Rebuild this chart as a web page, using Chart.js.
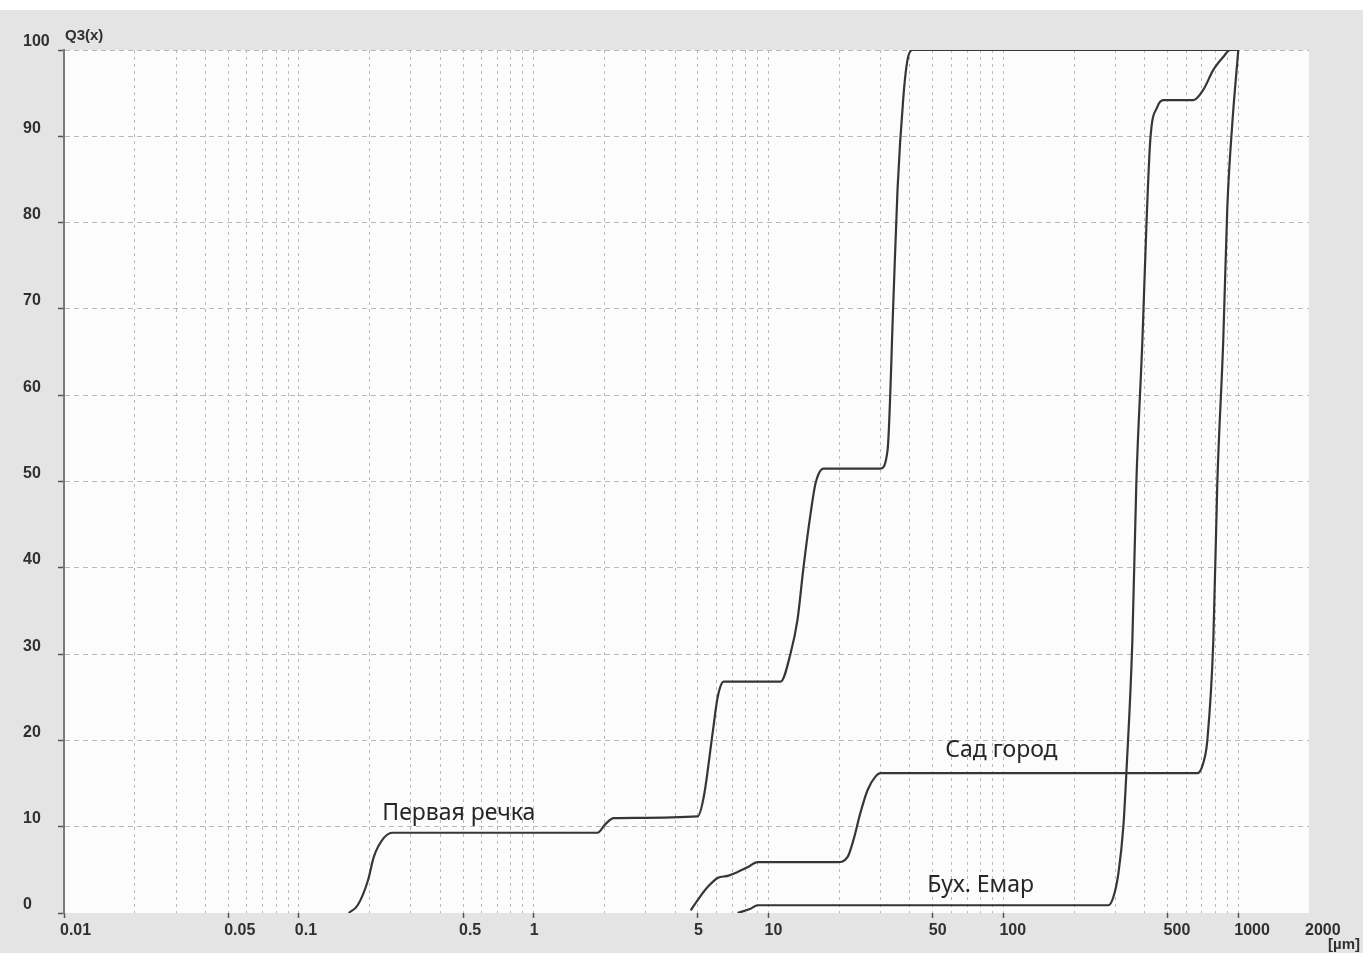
<!DOCTYPE html>
<html><head><meta charset="utf-8">
<script src="https://cdn.jsdelivr.net/npm/chart.js@4.4.1/dist/chart.umd.min.js"></script>
<style>html,body{margin:0;padding:0;background:#fff;overflow:hidden}</style>
</head><body>
<canvas id="c" width="1363" height="953" style="display:block;width:1363px;height:953px"></canvas>
<script>
// Tick labels
const xTickLabels = [0.01, 0.05, 0.1, 0.5, 1, 5, 10, 50, 100, 500, 1000, 2000];
const yTickLabels = [0, 10, 20, 30, 40, 50, 60, 70, 80, 90, 100];
const xMin = 0.01, xMax = 2000;

// Series: "Первая речка"
const s1Name = 'Первая речка';
const s1x = [0.163, 0.178, 0.197, 0.2085, 0.230, 0.251, 1.87, 2.02, 2.19, 4.99, 5.30, 5.78, 6.07, 6.44, 11.25, 12.41, 13.28, 14.09, 15.10, 15.85, 17.14, 29.97, 32.1, 34.0, 35.4, 37.5, 39.0, 41.0, 1000];
const s1y = [0.0, 0.9, 3.8, 6.5, 8.7, 9.3, 9.3, 10.3, 11.0, 11.2, 13.5, 20.9, 25.0, 26.8, 26.8, 30.1, 34.0, 40.1, 46.3, 49.8, 51.5, 51.5, 53.6, 71.0, 83.8, 94.6, 98.8, 100, 100];

// Series: "Сад город"
const s2Name = 'Сад город';
const s2x = [4.66, 4.99, 5.50, 6.07, 6.69, 7.38, 8.14, 8.98, 19.66, 21.7, 23.0, 24.6, 26.4, 28.5, 30.0, 669, 709.6, 738, 782.9, 814, 863, 898, 943, 1000];
const s2y = [0.3, 1.5, 3.0, 4.06, 4.3, 4.75, 5.3, 5.9, 5.9, 6.5, 8.5, 11.6, 14.25, 15.8, 16.2, 16.2, 17.4, 20.0, 31.6, 49.8, 66.4, 81.8, 91.5, 100];

// Series: "Бух. Емар"
const s3Name = 'Бух. Емар';
const s3x = [7.38, 8.38, 8.98, 279.8, 293.8, 308.7, 324, 333.7, 354, 368, 390.6, 406, 422, 452, 479.7, 643.5, 709.6, 782.9, 863, 924.7, 1000];
const s3y = [0.0, 0.5, 0.9, 0.9, 1.85, 4.6, 10.0, 16.2, 31.6, 49.8, 66.4, 79.5, 89.6, 93.4, 94.2, 94.2, 95.4, 97.7, 99.2, 100, 100];

// Curve annotations (data coordinates)
const noteText = [s1Name, s2Name, s3Name];
const noteX = [0.48, 98, 80];
const noteY = [11.5, 18.8, 3.2];

const toPts = (xs, ys) => xs.map((x, i) => ({x: x, y: ys[i]}));
const norm = v => parseFloat(v.toPrecision(6));
const isLabeled = v => xTickLabels.some(t => Math.abs(t - v) / t < 1e-6);

// log grid positions: 1..9 x each decade
const gridVals = [];
for (let e = -2; e <= 3; e++) {
  for (let k = 1; k <= 9; k++) {
    const v = norm(k * Math.pow(10, e));
    if (v >= xMin && v <= xMax) gridVals.push(v);
  }
}

const LINE = '#363636';
const GRID = '#b9b9b9';
const TXT = '#303030';
const tickFont = {family: '"Liberation Sans", Arial, sans-serif', size: 16, weight: 'bold'};

const decor = {
  id: 'decor',
  beforeDraw(chart) {
    const {ctx, chartArea: a} = chart;
    ctx.save();
    ctx.fillStyle = '#ffffff';
    ctx.fillRect(0, 0, chart.width, chart.height);
    ctx.fillStyle = '#e4e4e4';
    ctx.fillRect(0, 10, chart.width, chart.height - 10);
    ctx.fillStyle = '#fcfcfc';
    ctx.fillRect(a.left, a.top, a.right - a.left, a.bottom - a.top);
    ctx.restore();
  },
  afterDatasetsDraw(chart) {
    const {ctx, chartArea: a} = chart;
    const xs = chart.scales.x, ys = chart.scales.y;
    ctx.save();
    ctx.fillStyle = '#262626';
    ctx.font = '23px "Noto Sans", "Open Sans", sans-serif';
    ctx.textAlign = 'center';
    ctx.textBaseline = 'middle';
    noteText.forEach((t, i) => {
      ctx.fillText(t, xs.getPixelForValue(noteX[i]), ys.getPixelForValue(noteY[i]));
    });
    ctx.fillStyle = TXT;
    ctx.font = 'bold 15px "Liberation Sans", Arial, sans-serif';
    ctx.textAlign = 'left';
    ctx.textBaseline = 'middle';
    ctx.fillText('Q3(x)', a.left + 1, a.top - 14);
    ctx.textAlign = 'right';
    ctx.fillText('[µm]', chart.width - 3, chart.height - 8);
    ctx.restore();
  }
};

new Chart(document.getElementById('c'), {
  type: 'line',
  data: {
    datasets: [
      {label: s1Name, data: toPts(s1x, s1y)},
      {label: s2Name, data: toPts(s2x, s2y)},
      {label: s3Name, data: toPts(s3x, s3y)}
    ].map(d => Object.assign(d, {
      borderColor: LINE, borderWidth: 2.2, pointRadius: 0, fill: false,
      cubicInterpolationMode: 'monotone'
    }))
  },
  options: {
    responsive: false,
    animation: false,
    devicePixelRatio: 1,
    layout: {padding: {left: 23, top: 50, right: 54, bottom: 0}},
    plugins: {legend: {display: false}, tooltip: {enabled: false}, title: {display: false}},
    scales: {
      x: {
        type: 'logarithmic', position: 'bottom', min: xMin, max: xMax,
        afterBuildTicks: s => { s.ticks = gridVals.map(v => ({value: v})); },
        afterFit: s => { s.height = 40; },
        ticks: {
          autoSkip: false, maxRotation: 0, minRotation: 0, align: 'start',
          labelOffset: -4, padding: 3, color: TXT, font: tickFont,
          callback: v => isLabeled(v) ? String(norm(v)) : ''
        },
        grid: {
          color: c => (c.tick && (c.tick.value <= xMin * 1.0001 || c.tick.value >= xMax * 0.9999)) ? 'rgba(0,0,0,0)' : GRID,
          lineWidth: 1,
          tickLength: 5,
          tickWidth: 1.5,
          tickColor: c => (c.tick && isLabeled(c.tick.value) && c.tick.value < xMax * 0.9999) ? '#555' : 'rgba(0,0,0,0)'
        },
        border: {display: false, dash: [3, 4]}
      },
      y: {
        type: 'linear', position: 'left', min: 0, max: 100,
        afterBuildTicks: s => { s.ticks = yTickLabels.map(v => ({value: v})); },
        afterFit: s => { s.width = 41; },
        ticks: {
          crossAlign: 'far', labelOffset: -8, color: TXT, font: tickFont,
          callback: v => String(v)
        },
        grid: {
          color: c => (c.tick && c.tick.value === 0) ? 'rgba(0,0,0,0)' : GRID,
          lineWidth: 1, tickLength: 6, tickWidth: 1.5, tickColor: '#555'
        },
        border: {display: true, color: '#7a7a7a', width: 2, dash: [5, 4]}
      }
    }
  },
  plugins: [decor]
});
</script>
</body></html>
